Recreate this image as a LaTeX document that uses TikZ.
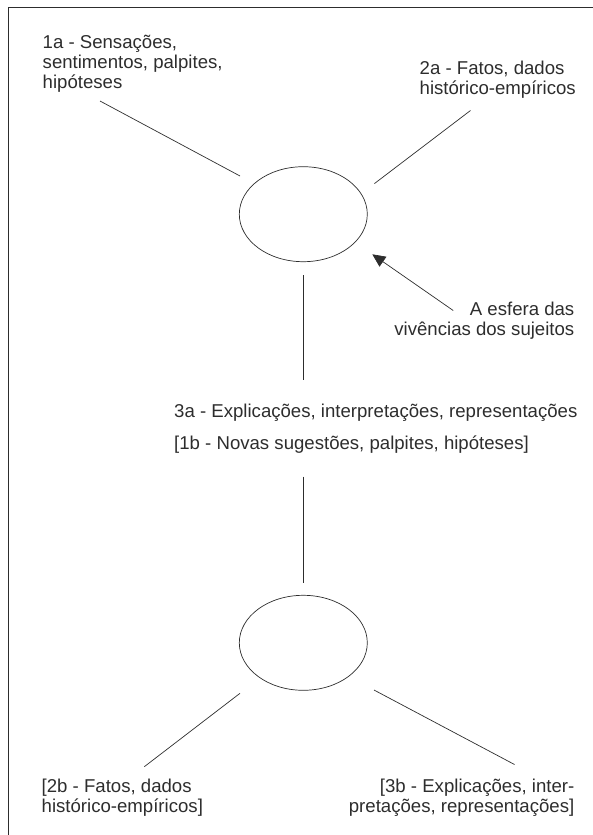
\documentclass[tikz,border=0pt]{standalone}
\usepackage{fontspec}
\setmainfont{Liberation Sans}
\usetikzlibrary{shapes.geometric,arrows.meta}
\definecolor{inkgray}{RGB}{45,45,45}
\tikzset{
  sphere/.style={draw=inkgray, line width=0.7pt, ellipse, inner sep=0pt,
    minimum width=128pt, minimum height=95pt},
  caption/.style={text=inkgray, inner sep=0pt, font=\fontsize{18.6}{20}\selectfont},
  link/.style={draw=inkgray, line width=0.7pt}
}
\begin{document}
\begin{tikzpicture}[x=1pt,y=1pt,yscale=-1,xscale=1]
\useasboundingbox (0,0) rectangle (592,835);

%Frame
\draw [color=inkgray, line width=0.9pt] (8,845) -- (8,7.5) -- (600,7.5);

%Shape: Ellipses
\node [sphere] (upper) at (303.3,214.2) {};
\node [sphere] (lower) at (303.3,642.8) {};

%Texts (base = last line)
\node [caption, anchor=base west, align=left] (t1a) at (42.5,88.5) {1a - Sensações,\\sentimentos, palpites,\\hipóteses};
\node [caption, anchor=base west, align=left] (t2a) at (419.5,94.5) {2a - Fatos, dados\\histórico-empíricos};
\node [caption, anchor=base east, align=right] (tesf) at (574.5,335) {A esfera das\\vivências dos sujeitos};
\node [caption, anchor=base west] (t3a) at (174,417.5) {3a - Explicações, interpretações, representações};
\node [caption, anchor=base west] (t1b) at (174,449.5) {[1b - Novas sugestões, palpites, hipóteses]};
\node [caption, anchor=base west, align=left] (t2b) at (41.5,812) {[2b - Fatos, dados\\histórico-empíricos]};
\node [caption, anchor=base east, align=right] (t3b) at (574.5,812) {[3b - Explicações, inter-\\pretações, representações]};

%Line ends
\coordinate (a1) at (100,101);   \coordinate (b1) at (240,176);
\coordinate (a2) at (470.5,110.5); \coordinate (b2) at (374.4,183.6);
\coordinate (a3) at (303.3,275); \coordinate (b3) at (303.3,380);
\coordinate (a4) at (303.3,476.7); \coordinate (b4) at (303.3,582.5);
\coordinate (a5) at (240,693.3); \coordinate (b5) at (144.3,766.7);
\coordinate (a6) at (374,690);   \coordinate (b6) at (514.5,764.5);
\coordinate (a7) at (453.2,310.5); \coordinate (b7) at (372.3,254.3);

%Straight Lines
\draw [link] (a1) -- (b1);
\draw [link] (a2) -- (b2);
\draw [link] (a3) -- (b3);
\draw [link] (a4) -- (b4);
\draw [link] (a5) -- (b5);
\draw [link] (a6) -- (b6);
%Arrow
\draw [link, -{Triangle[length=13pt,width=12pt]}] (a7) -- (b7);

\end{tikzpicture}
\end{document}
